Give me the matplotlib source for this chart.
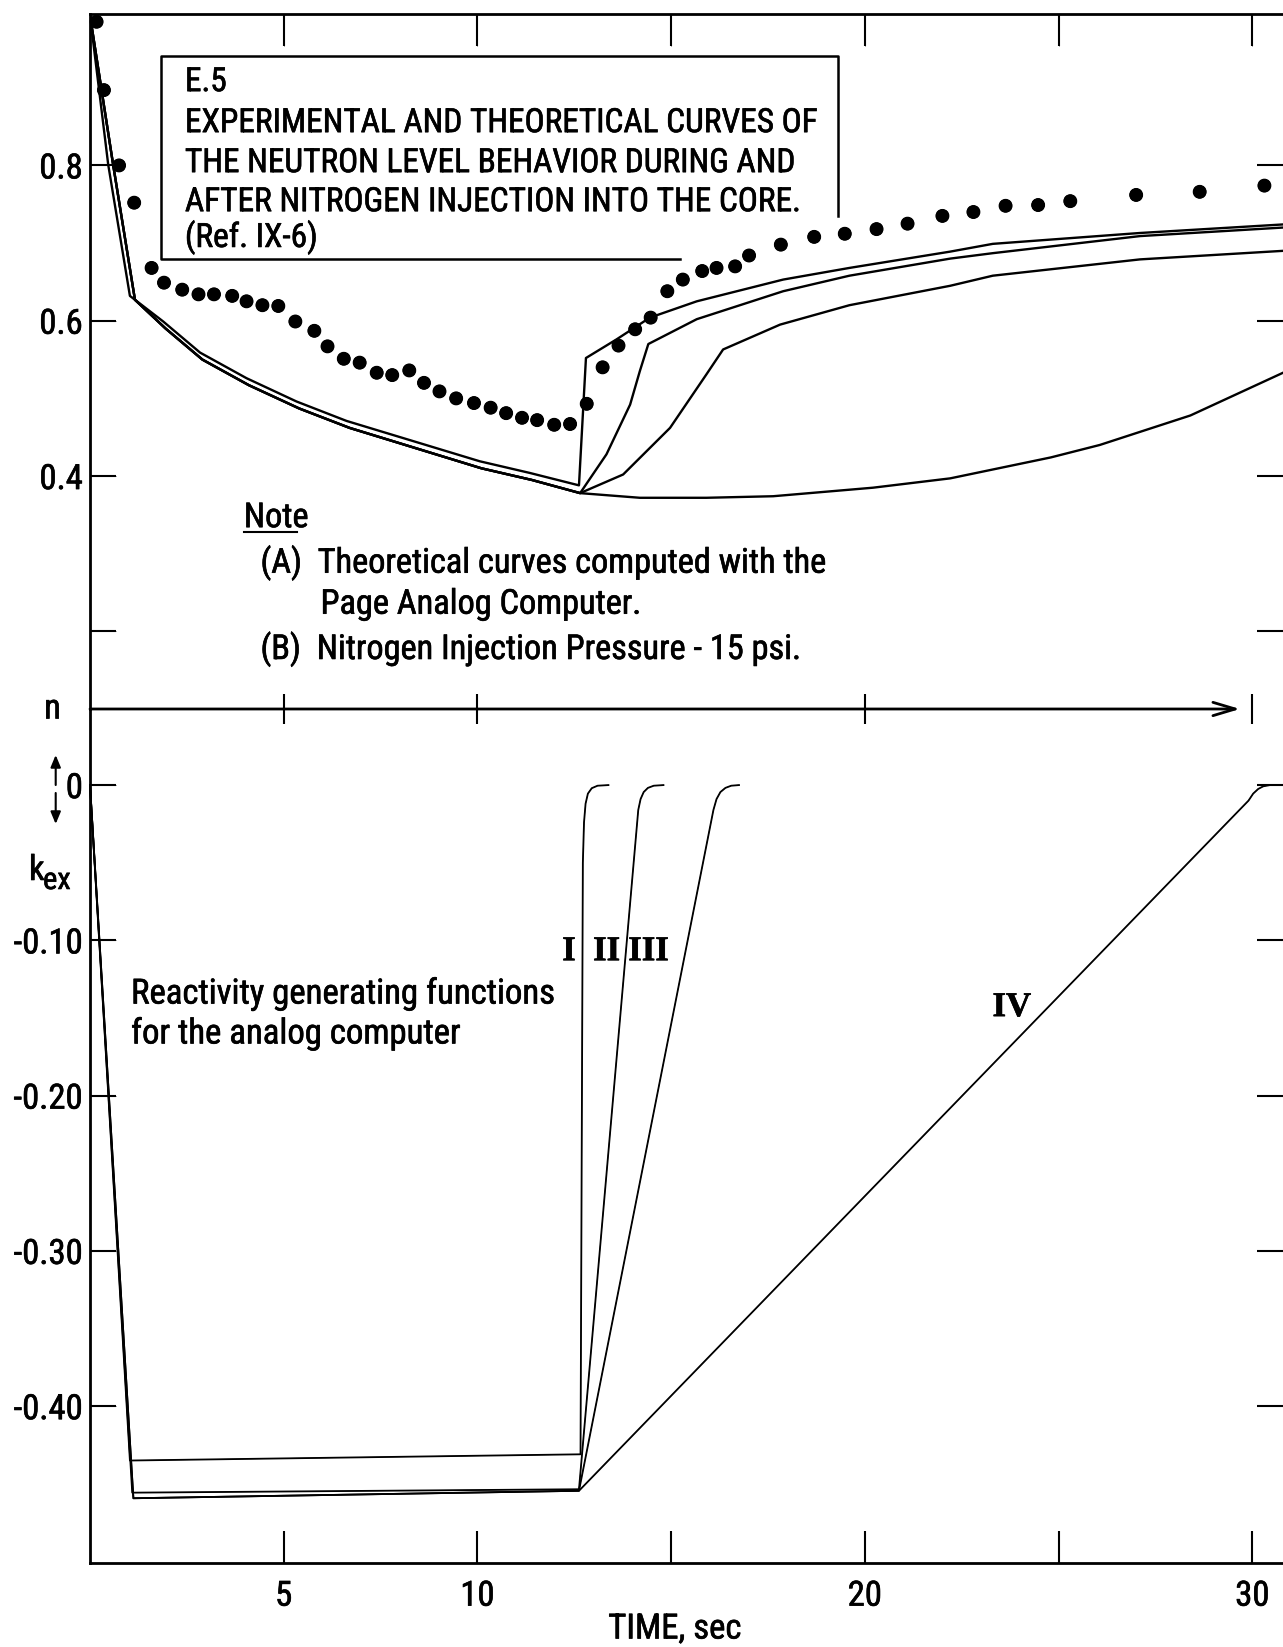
import matplotlib
matplotlib.use("Agg")
import matplotlib.pyplot as plt
from matplotlib import font_manager, patheffects
from matplotlib.patches import FancyArrowPatch

# condensed sans for the lettering, serif for the roman numerals
installed = {f.name for f in font_manager.fontManager.ttflist}
SANS = next(f for f in ["Liberation Sans Narrow", "Roboto Condensed", "Liberation Sans", "DejaVu Sans"] if f in installed)
SERIF = next(f for f in ["Liberation Serif", "DejaVu Serif"] if f in installed)

plt.rcParams["font.family"] = [SANS, "DejaVu Sans"]
# slightly heavier lettering, like the original typesetting
plt.rcParams["path.effects"] = [patheffects.withStroke(linewidth=0.45, foreground="black")]

# --- experimental neutron level (dots) ---
dot_t = [0.17, 0.36, 0.75, 1.14, 1.59, 1.91, 2.38, 2.80, 3.20, 3.67, 4.04, 4.45, 4.86,
         5.30, 5.79, 6.13, 6.55, 6.96, 7.40, 7.80, 8.24, 8.62, 9.02, 9.45, 9.91, 10.34,
         10.74, 11.15, 11.54, 11.98, 12.39, 12.82, 13.23, 13.64, 14.07, 14.47, 14.90,
         15.30, 15.80, 16.17, 16.65, 17.01, 17.83, 18.69, 19.48, 20.30, 21.10, 22.00,
         22.80, 23.63, 24.47, 25.30, 27.00, 28.64, 30.31]
dot_n = [0.985, 0.897, 0.800, 0.752, 0.668, 0.649, 0.640, 0.634, 0.634, 0.632, 0.625, 0.620, 0.619,
         0.599, 0.587, 0.567, 0.551, 0.546, 0.533, 0.530, 0.536, 0.520, 0.509, 0.500, 0.494, 0.488,
         0.481, 0.475, 0.472, 0.466, 0.467, 0.493, 0.540, 0.568, 0.589, 0.604, 0.638,
         0.653, 0.664, 0.668, 0.670, 0.684, 0.698, 0.708, 0.712, 0.718, 0.725, 0.735,
         0.740, 0.748, 0.749, 0.754, 0.762, 0.766, 0.774]

# --- theoretical neutron level, analog computer ---
# decay while nitrogen is in the core (curve I slightly above the other three)
fall_I_t = [0.0, 0.47, 1.03, 1.89, 2.84, 4.04, 5.33, 6.62, 8.34, 10.06, 11.35, 12.62]
fall_I_n = [0.993, 0.801, 0.632, 0.599, 0.559, 0.526, 0.496, 0.471, 0.445, 0.419, 0.404, 0.388]
fall_t = [0.0, 0.60, 1.16, 1.95, 2.90, 4.10, 5.40, 6.70, 8.40, 10.10, 11.40, 12.65]
fall_n = [0.993, 0.800, 0.627, 0.590, 0.550, 0.517, 0.487, 0.462, 0.436, 0.410, 0.395, 0.378]

# recovery after the nitrogen leaves
rise_I_t = [12.80, 13.59, 14.45, 15.66, 17.89, 19.60, 22.20, 23.30, 27.10, 30.79]
rise_I_n = [0.552, 0.576, 0.604, 0.625, 0.653, 0.668, 0.689, 0.699, 0.713, 0.724]
rise_II_t = [13.33, 13.94, 14.19, 14.41, 15.66, 17.89, 19.60, 22.20, 23.30, 27.10, 30.79]
rise_II_n = [0.428, 0.492, 0.535, 0.570, 0.602, 0.638, 0.658, 0.680, 0.687, 0.709, 0.720]
rise_III_t = [13.76, 14.97, 15.91, 16.34, 17.81, 19.60, 22.20, 23.30, 27.10, 30.79]
rise_III_n = [0.402, 0.462, 0.531, 0.563, 0.595, 0.620, 0.645, 0.658, 0.679, 0.690]
rise_IV_t = [14.19, 15.91, 17.63, 20.21, 22.20, 24.80, 26.06, 28.40, 30.79]
rise_IV_n = [0.372, 0.372, 0.374, 0.385, 0.397, 0.424, 0.440, 0.478, 0.533]

# --- reactivity generating functions ---
k_I_t = [0.0, 1.03, 12.66, 12.72, 12.75, 12.79, 12.85, 12.95, 13.10, 13.38]
k_I = [0.0, -0.435, -0.431, -0.050, -0.024, -0.012, -0.0055, -0.002, -0.0004, 0.0]
k_II_t = [0.0, 1.09, 12.62, 14.15, 14.21, 14.29, 14.40, 14.55, 14.80]
k_II = [0.0, -0.4557, -0.4535, -0.016, -0.009, -0.0045, -0.0018, -0.0004, 0.0]
k_III_t = [0.0, 1.12, 12.62, 16.09, 16.17, 16.27, 16.40, 16.55, 16.75]
k_III = [0.0, -0.4593, -0.4545, -0.016, -0.009, -0.0045, -0.0018, -0.0004, 0.0]
k_IV_t = [0.0, 1.12, 12.62, 29.90, 30.02, 30.15, 30.28, 30.45, 30.79]
k_IV = [0.0, -0.4593, -0.4545, -0.010, -0.0055, -0.0025, -0.0008, 0.0, 0.0]

time_ticks = [5, 10, 15, 20, 25, 30]
time_labels = ["5", "10", "", "20", "", "30"]
n_ticks = [0.2, 0.4, 0.6, 0.8]
n_labels = ["", "0.4", "0.6", "0.8"]
k_ticks = [0.0, -0.10, -0.20, -0.30, -0.40]
k_labels = ["0", "-0.10", "-0.20", "-0.30", "-0.40"]

W, H = 1283, 1647
FS_TICK = 25
FS_CAP = 24.0
FS_NOTE = 24.7
fig = plt.figure(figsize=(W / 100, H / 100), dpi=100)
left = 90 / W
ax_n = fig.add_axes([left, 1 - 709 / H, 1 - left, 695 / H])
ax_k = fig.add_axes([left, 1 - 1563 / H, 1 - left, 854 / H])
# upper panel on top, transparent, so the n axis arrow and its ticks show fully
ax_n.set_zorder(2)
ax_n.patch.set_visible(False)

for ax in (ax_n, ax_k):
    ax.set_xlim(0, 30.79)
    ax.set_xticks(time_ticks)
    for s in ax.spines.values():
        s.set_linewidth(2)
ax_n.set_ylim(0.1, 0.995)
ax_k.set_ylim(-0.501, 0.049)

ax_n.spines["right"].set_visible(False)
ax_n.spines["bottom"].set_visible(False)
ax_k.spines["right"].set_visible(False)
ax_k.spines["top"].set_visible(False)

ax_n.tick_params(axis="x", top=True, bottom=False, labeltop=False, labelbottom=False,
                 direction="in", length=23, width=1.5)
ax_n.set_yticks(n_ticks)
ax_n.set_yticklabels(n_labels)
ax_n.tick_params(axis="y", left=True, right=True, direction="in", length=19, width=1.5,
                 pad=5, labelsize=FS_TICK)

ax_k.set_xticklabels(time_labels)
ax_k.tick_params(axis="x", bottom=True, top=False, direction="in", length=23, width=1.5,
                 pad=12, labelsize=FS_TICK)
ax_k.set_yticks(k_ticks)
ax_k.set_yticklabels(k_labels)
ax_k.tick_params(axis="y", left=True, right=True, direction="in", length=19, width=1.5,
                 pad=5, labelsize=FS_TICK)

# neutron level curves
ax_n.plot(fall_I_t + rise_I_t, fall_I_n + rise_I_n, color="black", lw=1.7)
for rt, rn in [(rise_II_t, rise_II_n), (rise_III_t, rise_III_n), (rise_IV_t, rise_IV_n)]:
    ax_n.plot(fall_t + rt, fall_n + rn, color="black", lw=1.7)
ax_n.plot(dot_t, dot_n, "o", ms=9, color="black", clip_on=False)

# reactivity curves
for kt, kv in [(k_I_t, k_I), (k_II_t, k_II), (k_III_t, k_III), (k_IV_t, k_IV)]:
    ax_k.plot(kt, kv, color="black", lw=1.3, clip_on=False)

# n axis with arrow and crossing ticks
ax_n.add_patch(FancyArrowPatch((0, 0.1), (29.68, 0.1),
                               arrowstyle="->,head_length=1.0,head_width=0.3",
                               mutation_scale=16, lw=2, color="black",
                               shrinkA=0, shrinkB=0, clip_on=False))
ax_n.vlines([5, 10, 20, 30], 0.081, 0.119, color="black", lw=1.5, clip_on=False)

# caption box
ax_n.plot([19.31, 19.31, 1.83, 1.83, 15.23], [0.735, 0.941, 0.941, 0.679, 0.679],
          color="black", lw=1.8)
caption = ["E.5",
           "EXPERIMENTAL AND THEORETICAL CURVES OF",
           "THE NEUTRON LEVEL BEHAVIOR DURING AND",
           "AFTER NITROGEN INJECTION INTO THE CORE.",
           "(Ref. IX-6)"]
for line, yb in zip(caption, [0.8957, 0.8429, 0.7914, 0.7411, 0.6950]):
    ax_n.text(2.45, yb, line, fontsize=FS_CAP, va="baseline", ha="left")

# note
ax_n.text(3.97, 0.3342, "Note", fontsize=FS_NOTE, va="baseline")
ax_n.plot([3.97, 5.34], [0.3278, 0.3278], color="black", lw=1.5)
ax_n.text(4.40, 0.2755, "(A)  Theoretical curves computed with the", fontsize=FS_NOTE, va="baseline")
ax_n.text(5.95, 0.2227, "Page Analog Computer.", fontsize=FS_NOTE, va="baseline")
ax_n.text(4.40, 0.1644, "(B)  Nitrogen Injection Pressure - 15 psi.", fontsize=FS_NOTE, va="baseline")

# reactivity panel labels
ax_k.text(1.06, -0.1407, "Reactivity generating functions", fontsize=FS_NOTE + 0.3, va="baseline")
ax_k.text(1.06, -0.1664, "for the analog computer", fontsize=FS_NOTE + 0.3, va="baseline")
for lab, t in [("I", 12.36), ("II", 13.33), ("III", 14.41)]:
    ax_k.text(t, -0.1073, lab, fontsize=25, family=SERIF, weight="bold", ha="center", va="center")
ax_k.text(23.79, -0.1433, "IV", fontsize=25, family=SERIF, weight="bold", ha="center", va="center")
ax_k.text(15.09 / 30.79, -0.0773, "TIME, sec", fontsize=FS_TICK, ha="center", va="center",
          transform=ax_k.transAxes)

# axis names on the left margin
fig.text(52.5 / W, 1 - 709 / H, "n", fontsize=FS_TICK, ha="center", va="center")
fig.text(29 / W, 1 - 880 / H, "k", fontsize=FS_TICK, ha="left", va="baseline")
fig.text(43 / W, 1 - 889 / H, "ex", fontsize=22, ha="left", va="baseline")
for y0, y1 in [(785, 755), (793, 824)]:
    fig.patches.append(FancyArrowPatch((55.7 / W, 1 - y0 / H), (55.7 / W, 1 - y1 / H),
                                       arrowstyle="-|>,head_length=0.6,head_width=0.25",
                                       mutation_scale=12, lw=1.5, color="black",
                                       transform=fig.transFigure, figure=fig,
                                       shrinkA=0, shrinkB=0))

fig.savefig("out.png", dpi=100)
